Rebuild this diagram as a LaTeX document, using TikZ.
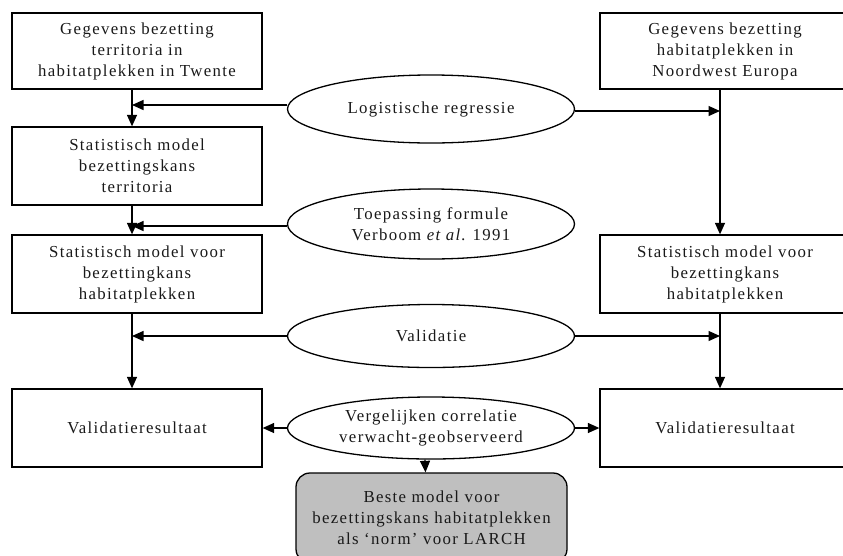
\documentclass[tikz,border=0pt]{standalone}
\usepackage{fontspec}
\setmainfont{Liberation Serif}[LetterSpace=8]
\usetikzlibrary{arrows.meta,shapes.geometric}
\tikzset{
  txt/.style={font=\fontsize{16.8}{21}\selectfont\frenchspacing, text=black!90},
  box/.style={draw, line width=1.3pt, rectangle, minimum width=250pt, minimum height=78pt,
    align=center, inner sep=0pt, txt},
  oval/.style={draw, line width=1.3pt, ellipse, minimum width=287pt, inner sep=0pt,
    align=center, txt},
  result/.style={draw, line width=1.3pt, rectangle, rounded corners=14pt, fill=black!25,
    minimum width=271pt, minimum height=90pt, align=center, inner sep=0pt, txt},
  flow/.style={line width=1.3pt, -{Triangle[length=11.5pt,width=10pt]}}
}
\begin{document}
\begin{tikzpicture}[x=1pt,y=-1pt]
\useasboundingbox (0,0) rectangle (843,555);
\begin{scope}
\clip (0,0) rectangle (843,555);
% left column
\node[box, minimum height=76pt] (g1) at (137,51) {Gegevens bezetting\\territoria in\\habitatplekken in Twente};
\node[box] (s1) at (137,166) {Statistisch model\\bezettingskans\\territoria};
\node[box] (s2) at (137,274) {Statistisch model voor\\bezettingkans\\habitatplekken};
\node[box] (v1) at (137,428) {Validatieresultaat};
% right column
\node[box, minimum height=76pt] (g2) at (725,51) {Gegevens bezetting\\habitatplekken in\\Noordwest Europa};
\node[box] (s3) at (725,274) {Statistisch model voor\\bezettingkans\\habitatplekken};
\node[box] (v2) at (725,428) {Validatieresultaat};
% methods
\node[oval, minimum height=68pt] (logit) at (431,109) {Logistische regressie};
\node[oval, minimum height=70pt] (toep) at (431,224) {Toepassing formule\\Verboom \textit{et al.} 1991};
\node[oval, minimum height=63pt] (valid) at (431,336) {Validatie};
\node[oval, minimum height=62pt] (verg) at (431,428) {Vergelijken correlatie\\verwacht-geobserveerd};
% outcome
\node[result] (best) at (431.5,518) {Beste model voor\\bezettingskans habitatplekken\\als `norm' voor LARCH};
% flow lines
\coordinate (Lx) at (132,0);
\coordinate (Rx) at (720,0);
\draw[flow] (g1.south -| Lx) -- (s1.north -| Lx);
\draw[flow] (s1.south -| Lx) -- (s2.north -| Lx);
\draw[flow] (s2.south -| Lx) -- (v1.north -| Lx);
\draw[flow] (g2.south -| Rx) -- (s3.north -| Rx);
\draw[flow] (s3.south -| Rx) -- (v2.north -| Rx);
\draw[flow] ([yshift=4pt]logit.west) -- ([yshift=4pt]logit.west -| Lx);
\draw[flow] ([yshift=-2pt]logit.east) -- ([yshift=-2pt]logit.east -| Rx);
\draw[flow] ([yshift=-2pt]toep.west) -- ([yshift=-2pt]toep.west -| Lx);
\draw[flow] (valid.west) -- (valid.west -| Lx);
\draw[flow] (valid.east) -- (valid.east -| Rx);
\draw[flow] (verg.west) -- (v1.east);
\draw[flow] (verg.east) -- (v2.west);
\draw[flow] ([xshift=-6pt]verg.south) -- ([xshift=-6pt]best.north);
\end{scope}
\end{tikzpicture}
\end{document}
